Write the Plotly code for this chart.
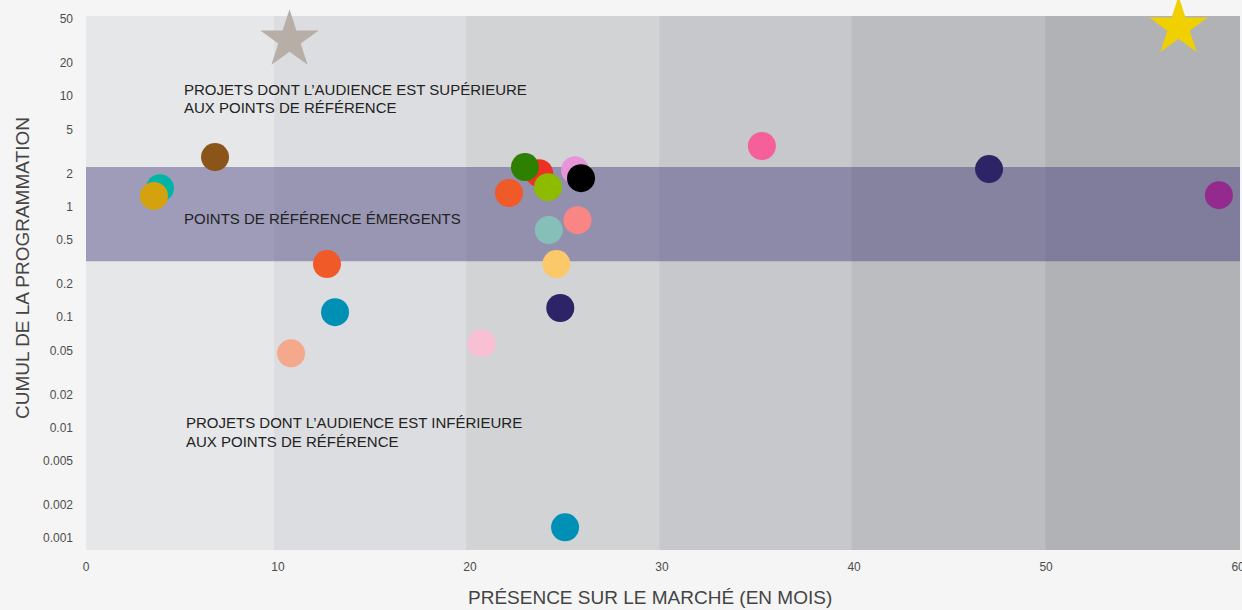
import plotly.graph_objects as go
import math

# Data
circle_x = [3.85, 3.54, 6.72, 12.55, 12.97, 10.68, 20.6, 22.03, 23.6, 22.86, 24.06, 25.47, 25.78, 25.6, 24.1, 24.5, 24.7, 24.95, 35.2, 47.03, 59.0]
circle_y = [1.47, 1.25, 2.81, 0.302, 0.111, 0.047, 0.058, 1.33, 2.01, 2.28, 1.50, 2.14, 1.81, 0.755, 0.614, 0.302, 0.121, 0.00125, 3.54, 2.19, 1.27]
circle_colors = ["#00b5a5", "#d4a20e", "#8b5519", "#f05a28", "#0090b5", "#f4a98c", "#f9bfd3",
                 "#f05a28", "#ee3124", "#2e8000", "#8cbb00", "#e895d8", "#000000", "#f98585",
                 "#85bfb7", "#fcc96a", "#2d2468", "#0090b5", "#f5609a", "#2d2468", "#952a8e"]
star_x = [10.6, 56.9]
star_y = [32.3, 42.3]
star_colors = ["#b8aea8", "#f0d000"]

band_low, band_high = 0.321, 2.28
column_edges = [0, 9.8, 19.8, 29.85, 39.85, 49.95, 60.1]
column_colors = ["#e6e7e9", "#dcdde0", "#d2d3d5", "#c7c8cb", "#bcbdc0", "#b1b2b6"]

y_tickvals = [50, 20, 10, 5, 2, 1, 0.5, 0.2, 0.1, 0.05, 0.02, 0.01, 0.005, 0.002, 0.001]
y_ticktext = ["50", "20", "10", "5", "2", "1", "0.5", "0.2", "0.1", "0.05", "0.02", "0.01", "0.005", "0.002", "0.001"]
x_tickvals = [0, 10, 20, 30, 40, 50, 60]

label_lines = ["PROJETS DONT L’AUDIENCE EST SUPÉRIEURE", "AUX POINTS DE RÉFÉRENCE",
               "POINTS DE RÉFÉRENCE ÉMERGENTS",
               "PROJETS DONT L’AUDIENCE EST INFÉRIEURE", "AUX POINTS DE RÉFÉRENCE"]
label_x = [5.0, 5.0, 5.0, 5.1, 5.1]
label_y = [11.6, 7.98, 0.787, 0.0112, 0.00753]

x_title = "PRÉSENCE SUR LE MARCHÉ (EN MOIS)"
y_title = "CUMUL DE LA PROGRAMMATION"

FONT = "Liberation Sans, Arial, sans-serif"

fig = go.Figure()

shapes = []
for i, c in enumerate(column_colors):
    shapes.append(dict(type="rect", xref="x", yref="paper", x0=column_edges[i], x1=column_edges[i + 1],
                       y0=0, y1=1, fillcolor=c, line=dict(width=0), layer="below"))
shapes.append(dict(type="rect", xref="paper", yref="y", x0=0, x1=1, y0=band_low, y1=band_high,
                   fillcolor="rgba(52,44,116,0.4)", line=dict(width=0), layer="below"))

fig.add_trace(go.Scatter(x=circle_x, y=circle_y, mode="markers",
                         marker=dict(size=28, color=circle_colors, line=dict(width=0), opacity=1),
                         hoverinfo="skip", showlegend=False, cliponaxis=False))
fig.add_trace(go.Scatter(x=star_x, y=star_y, mode="markers",
                         marker=dict(size=44, symbol="star", color=star_colors, line=dict(width=0)),
                         hoverinfo="skip", showlegend=False, cliponaxis=False))

annotations = []
for t, lx, ly in zip(label_lines, label_x, label_y):
    annotations.append(dict(x=lx, y=math.log10(ly), xref="x", yref="y", text=t,
                            xanchor="left", yanchor="middle", align="left", showarrow=False,
                            font=dict(size=15, color="#222222", family=FONT)))
annotations.append(dict(x=(650 - 86) / 1154, y=-47 / 534, xref="paper", yref="paper", text=x_title,
                        xanchor="center", yanchor="middle", showarrow=False,
                        font=dict(size=19, color="#444444", family=FONT)))
annotations.append(dict(x=-64 / 1154, y=(550 - 268) / 534, xref="paper", yref="paper", text=y_title,
                        xanchor="center", yanchor="middle", showarrow=False, textangle=-90,
                        font=dict(size=19, color="#444444", family=FONT)))

fig.update_layout(
    width=1242, height=610,
    margin=dict(l=86, r=2, t=16, b=60),
    paper_bgcolor="#f5f5f5", plot_bgcolor="#e6e7e9",
    shapes=shapes, annotations=annotations,
    font=dict(family=FONT),
    xaxis=dict(range=[0, 60.1], tickvals=x_tickvals, showgrid=False, zeroline=False, showline=False,
               ticks="", ticklabelstandoff=8, ticklabeloverflow="allow", automargin=False,
               tickfont=dict(size=12, color="#4d4d4d")),
    yaxis=dict(type="log", range=[math.log10(0.00078), math.log10(53.2)], tickvals=y_tickvals, ticktext=y_ticktext,
               showgrid=False, zeroline=False, showline=False, ticks="", ticklabelstandoff=12, automargin=False,
               tickfont=dict(size=12, color="#4d4d4d")),
)

fig.write_html("out.html", config={"displayModeBar": False},
               post_script="document.body.style.margin='0';document.body.style.overflow='hidden';")
